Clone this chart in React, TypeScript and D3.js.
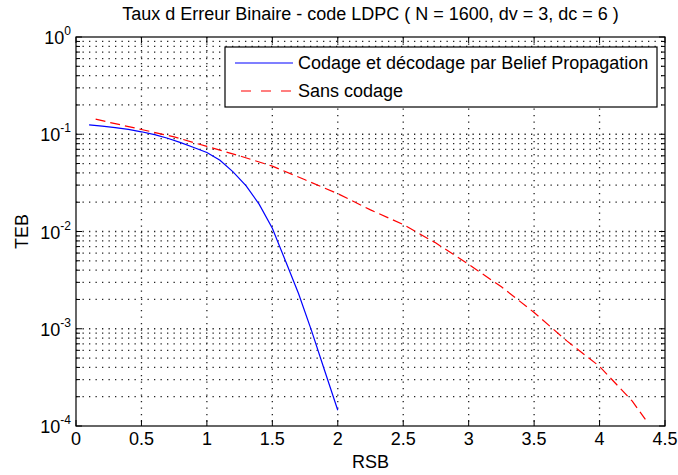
import React from "react";
import * as d3 from "d3";

const blueX = [0.1, 0.2, 0.3, 0.4, 0.5, 0.6, 0.7, 0.8, 0.9, 1.0, 1.1, 1.2, 1.3, 1.4, 1.5, 1.6, 1.7, 1.8, 1.9, 2.0];
const blueY = [0.125, 0.121, 0.117, 0.112, 0.106, 0.099, 0.091, 0.082, 0.073, 0.065, 0.054, 0.041, 0.0295, 0.0190, 0.0108, 0.0050, 0.0023, 0.00095, 0.00037, 0.000145];

const redX = [0.15, 0.25, 0.5, 0.75, 1.0, 1.25, 1.5, 1.75, 2.0, 2.25, 2.5, 2.75, 3.0, 3.25, 3.5, 3.75, 4.0, 4.25, 4.35];
const redY = [0.143, 0.133, 0.112, 0.094, 0.075, 0.060, 0.047, 0.034, 0.0245, 0.0167, 0.0118, 0.0076, 0.0046, 0.0027, 0.00147, 0.00075, 0.00041, 0.00018, 0.000117];

const xTicks = [0, 0.5, 1, 1.5, 2, 2.5, 3, 3.5, 4, 4.5];
const xTickLabels = ["0", "0.5", "1", "1.5", "2", "2.5", "3", "3.5", "4", "4.5"];
const yExponents = [-4, -3, -2, -1, 0];

const title = "Taux d Erreur Binaire - code LDPC ( N = 1600, dv = 3, dc = 6 )";
const xLabel = "RSB";
const yLabel = "TEB";
const legendLabels = ["Codage et décodage par Belief Propagation", "Sans codage"];

const W = 678;
const H = 475;
const L = 76, R = 665, T = 37, B = 426;
const FONT = "'Liberation Sans', Arial, sans-serif";

export default function App() {
  const x = d3.scaleLinear().domain([0, 4.5]).range([L, R]);
  const y = d3.scaleLog().domain([1e-4, 1]).range([B, T]);
  const line = d3.line<[number, number]>().x(d => x(d[0])).y(d => y(d[1]));
  const blue = blueX.map((v, i) => [v, blueY[i]] as [number, number]);
  const red = redX.map((v, i) => [v, redY[i]] as [number, number]);

  const minor: number[] = [];
  for (let e = -4; e < 0; e++) for (let m = 2; m <= 9; m++) minor.push(m * Math.pow(10, e));
  const major = yExponents.map(e => Math.pow(10, e));

  return (
    <svg width={W} height={H} style={{ position: "absolute", left: 0, top: 0, background: "#fff" }} fontFamily={FONT}>
      <rect x={0} y={0} width={W} height={H} fill="#fff" />
      {/* grid */}
      <g stroke="#222" strokeWidth={1.3} strokeDasharray="1.3,5.2">
        {xTicks.slice(1, -1).map(t => (
          <line key={"gx" + t} x1={x(t)} x2={x(t)} y1={T} y2={B} />
        ))}
        {minor.concat(major.slice(1, -1)).map(v => (
          <line key={"gy" + v} x1={L} x2={R} y1={y(v)} y2={y(v)} />
        ))}
      </g>
      {/* ticks */}
      <g stroke="#000" strokeWidth={1}>
        {xTicks.map(t => (
          <g key={"tx" + t}>
            <line x1={x(t)} x2={x(t)} y1={B} y2={B - 6} />
            <line x1={x(t)} x2={x(t)} y1={T} y2={T + 6} />
          </g>
        ))}
        {major.map(v => (
          <g key={"ty" + v}>
            <line x1={L} x2={L + 6} y1={y(v)} y2={y(v)} />
            <line x1={R} x2={R - 6} y1={y(v)} y2={y(v)} />
          </g>
        ))}
        {minor.map(v => (
          <g key={"tm" + v}>
            <line x1={L} x2={L + 4} y1={y(v)} y2={y(v)} />
            <line x1={R} x2={R - 4} y1={y(v)} y2={y(v)} />
          </g>
        ))}
      </g>
      <rect x={L} y={T} width={R - L} height={B - T} fill="none" stroke="#000" strokeWidth={1.2} />
      {/* data */}
      <path d={line(red) || ""} fill="none" stroke="#ff0000" strokeWidth={1.2} strokeDasharray="10,5" />
      <path d={line(blue) || ""} fill="none" stroke="#0000ff" strokeWidth={1.2} />
      {/* tick labels */}
      <g fontSize={18} fill="#000">
        {xTicks.map((t, i) => (
          <text key={"lx" + t} x={x(t)} y={B + 19} textAnchor="middle">{xTickLabels[i]}</text>
        ))}
        {yExponents.map(e => (
          <text key={"ly" + e} x={71} y={y(Math.pow(10, e)) + 7} textAnchor="end">
            <tspan>10</tspan>
            <tspan dy={-9} fontSize={12}>{String(e)}</tspan>
          </text>
        ))}
      </g>
      <text x={(L + R) / 2} y={20} textAnchor="middle" fontSize={18}>{title}</text>
      <text x={(L + R) / 2} y={468} textAnchor="middle" fontSize={18}>{xLabel}</text>
      <text transform={`translate(28,${(T + B) / 2}) rotate(-90)`} textAnchor="middle" fontSize={18}>{yLabel}</text>
      {/* legend */}
      <rect x={225} y={47} width={432} height={60} fill="#fff" stroke="#000" strokeWidth={1.2} />
      <line x1={235} x2={293} y1={63} y2={63} stroke="#0000ff" strokeWidth={1.2} />
      <line x1={241} x2={293} y1={91} y2={91} stroke="#ff0000" strokeWidth={1.2} strokeDasharray="10,10" />
      <text x={298} y={69} fontSize={18}>{legendLabels[0]}</text>
      <text x={298} y={97} fontSize={18}>{legendLabels[1]}</text>
    </svg>
  );
}
